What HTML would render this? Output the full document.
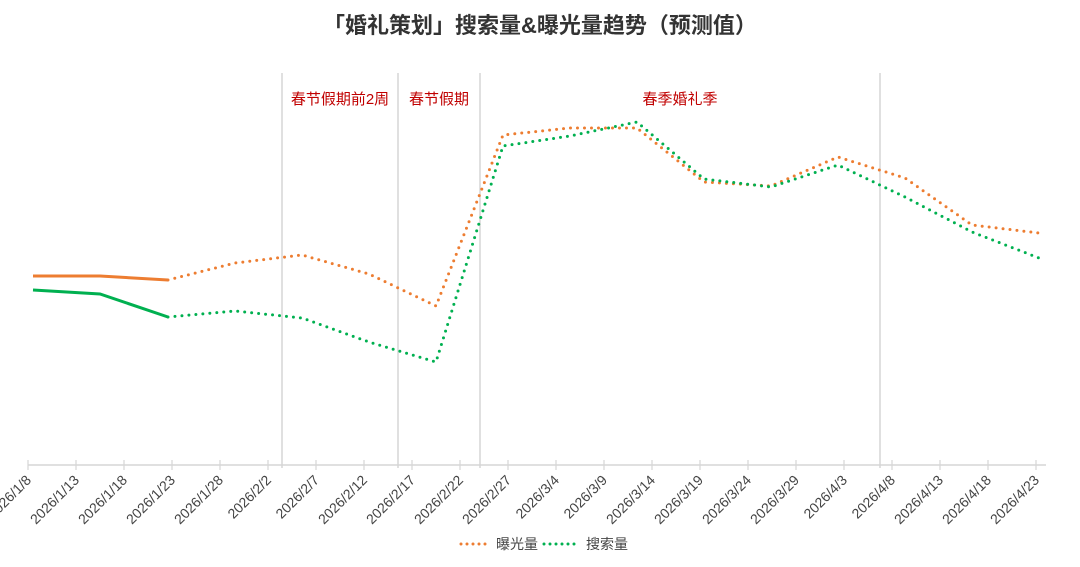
<!DOCTYPE html>
<html><head><meta charset="utf-8"><style>
body{margin:0;background:#fff;}
svg{display:block;font-family:"Liberation Sans","Noto Sans CJK SC",sans-serif;}
</style></head><body>
<svg width="1080" height="567" viewBox="0 0 1080 567">
<text x="540" y="33" text-anchor="middle" font-size="22" font-weight="bold" fill="#333">「婚礼策划」搜索量&amp;曝光量趋势（预测值）</text>
<g stroke="#d6d6d6" stroke-width="1.5">
<line x1="282" y1="73" x2="282" y2="468"/>
<line x1="398" y1="73" x2="398" y2="468"/>
<line x1="480" y1="73" x2="480" y2="468"/>
<line x1="880" y1="73" x2="880" y2="468"/>
<line x1="28" y1="465" x2="1046" y2="465"/>
</g>
<g stroke="#d6d6d6" stroke-width="1.2" id="ticks"></g>
<g font-size="15" fill="#c00000" text-anchor="middle">
<text x="340" y="104">春节假期前2周</text>
<text x="439" y="104">春节假期</text>
<text x="680" y="104">春季婚礼季</text>
</g>
<g id="labels" font-size="14" fill="#444" text-anchor="end"></g>
<polyline points="33,276 100,276 168,280" fill="none" stroke="#ed7d31" stroke-width="3"/>
<polyline points="33,290 100,294 168,317" fill="none" stroke="#00b050" stroke-width="3"/>
<polyline points="168,280 235,263 302,255 369,274 436,306 503,135 570,128 637,128 704,182 771,186 838,157 905,178 972,225 1039,233" fill="none" stroke="#ed7d31" stroke-width="3" stroke-dasharray="0 7" stroke-linecap="round"/>
<polyline points="168,317 235,311 302,318 369,342 436,362 503,146 570,136 637,122 704,179 771,187 838,165 905,197 972,232 1039,258" fill="none" stroke="#00b050" stroke-width="3" stroke-dasharray="0 7" stroke-linecap="round"/>
<line x1="461" y1="544" x2="491" y2="544" stroke="#ed7d31" stroke-width="3" stroke-dasharray="0 6" stroke-linecap="round"/>
<text x="496" y="549" font-size="14" fill="#444">曝光量</text>
<line x1="544" y1="544" x2="580" y2="544" stroke="#00b050" stroke-width="3" stroke-dasharray="0 6" stroke-linecap="round"/>
<text x="586" y="549" font-size="14" fill="#444">搜索量</text>
</svg>
<script>
var d=["1/8","1/13","1/18","1/23","1/28","2/2","2/7","2/12","2/17","2/22","2/27","3/4","3/9","3/14","3/19","3/24","3/29","4/3","4/8","4/13","4/18","4/23"];
var t=document.getElementById("ticks"),l=document.getElementById("labels"),ns="http://www.w3.org/2000/svg";
d.forEach(function(s,i){var x=28+48*i;
var ln=document.createElementNS(ns,"line");ln.setAttribute("x1",x);ln.setAttribute("x2",x);ln.setAttribute("y1",460);ln.setAttribute("y2",470);t.appendChild(ln);
var tx=document.createElementNS(ns,"text");tx.setAttribute("transform","translate("+(x+4)+",481) rotate(-45)");tx.textContent="2026/"+s;l.appendChild(tx);});
</script>
</body></html>
